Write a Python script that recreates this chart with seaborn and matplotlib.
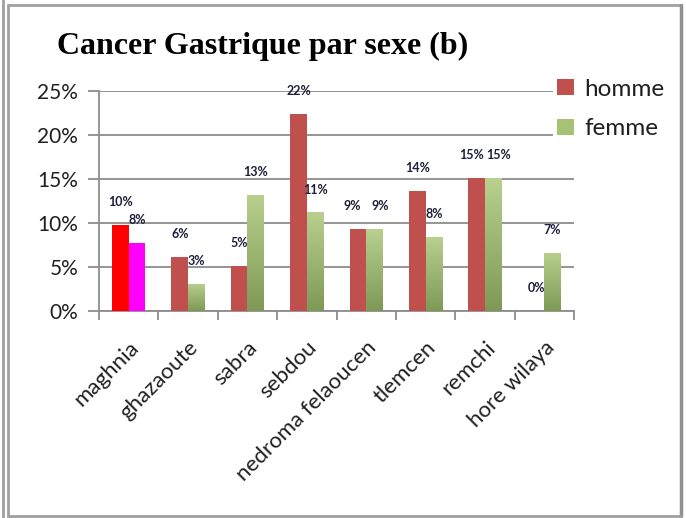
import numpy as np
import pandas as pd
import seaborn as sns
import matplotlib
matplotlib.use("Agg")
import matplotlib.pyplot as plt
from matplotlib.patches import Patch
from matplotlib.lines import Line2D
from matplotlib.colors import LinearSegmentedColormap

# ---------------- data ----------------
lieux = ["maghnia", "ghazaoute", "sabra", "sebdou", "nedroma felaoucen",
         "tlemcen", "remchi", "hore wilaya"]
homme = [9.8, 6.1, 5.1, 22.4, 9.3, 13.6, 15.1, 0.0]
femme = [7.7, 3.1, 13.2, 11.2, 9.3, 8.4, 15.1, 6.6]
series = ["homme", "femme"]
yticks = [0, 5, 10, 15, 20, 25]
title = "Cancer Gastrique par sexe (b)"

df = pd.DataFrame({
    "lieu": lieux * 2,
    "sexe": ["homme"] * len(lieux) + ["femme"] * len(lieux),
    "val": homme + femme,
})

sns.set_style("white")
plt.rcParams["font.family"] = ["Lato", "DejaVu Sans"]

W, H = 686, 518
fig = plt.figure(figsize=(W / 100, H / 100), dpi=100)
fig.patch.set_facecolor("white")
ax = fig.add_axes([99 / W, 1 - 311 / H, 475 / W, 220 / H])

c_h = "#C0504D"
c_f = "#9BBB59"
sns.barplot(data=df, x="lieu", y="val", hue="sexe", order=lieux,
            hue_order=series, palette={"homme": c_h, "femme": c_f},
            width=0.56, dodge=True, legend=False, ax=ax,
            linewidth=0, saturation=1, zorder=3)

# special colours for maghnia
ax.containers[0][0].set_facecolor("#FF0000")
ax.containers[1][0].set_facecolor("#FF00FF")

# gradient on femme bars
cmap = LinearSegmentedColormap.from_list("g", ["#7E9955", "#B9D08F"])
grad = np.linspace(0, 1, 256).reshape(-1, 1)
for i, bar in enumerate(ax.containers[1]):
    if i == 0 or bar.get_height() <= 0:
        continue
    x0, w = bar.get_x(), bar.get_width()
    h = bar.get_height()
    im = ax.imshow(grad, cmap=cmap, aspect="auto", origin="lower",
                   extent=[x0, x0 + w, 0, h], zorder=3.5)
    im.set_clip_path(bar)

# data labels (nudged apart when the two labels of a group sit at the same height)
for j, cont in enumerate(ax.containers):
    for i, bar in enumerate(cont):
        v = bar.get_height()
        dx = 0
        if abs(homme[i] - femme[i]) < 1.5:
            dx = -4 if j == 0 else 4
        ax.annotate(f"{v:.0f}%", (bar.get_x() + bar.get_width() / 2, v),
                    xytext=(dx, 16.5), textcoords="offset points",
                    ha="center", va="center", fontsize=9, fontweight="bold",
                    color="#1E1E3C", zorder=5)

ax.set_xlim(-0.5, len(lieux) - 0.5)
ax.set_ylim(0, 25)
ax.set_yticks(yticks)
ax.set_yticklabels([f"{t}%" for t in yticks], fontsize=15, color="#202020")
ax.set_xlabel("")
ax.set_ylabel("")

gcol = "#8C8C8C"
ax.grid(axis="y", color=gcol, linewidth=1.3, zorder=0)
ax.grid(axis="x", visible=False)
ax.set_axisbelow(True)
for s in ["top", "right"]:
    ax.spines[s].set_visible(False)
for s in ["left", "bottom"]:
    ax.spines[s].set_color(gcol)
    ax.spines[s].set_linewidth(1.3)
ax.tick_params(axis="y", length=8, width=1.3, color=gcol, pad=7, direction="out", left=True)

# x ticks: boundaries as minor ticks, labels on major with no tick
ax.set_xticks(np.arange(-0.5, len(lieux), 1.0), minor=True)
ax.tick_params(axis="x", which="minor", length=6.5, width=1.3, color=gcol, direction="out", bottom=True)
ax.tick_params(axis="x", which="major", length=0, pad=19)
ax.set_xticks(range(len(lieux)))
ax.set_xticklabels(lieux, rotation=45, ha="right", va="top",
                   rotation_mode="anchor", fontsize=16, color="#202020")

# legend
handles = [Patch(facecolor=c_h, edgecolor="none"),
           Patch(facecolor="#A8C275", edgecolor="none")]
leg = fig.legend(handles, series, loc="upper left",
                 bbox_to_anchor=(553 / W, 1 - 75 / H), fontsize=17.5,
                 frameon=True, facecolor="white", edgecolor="none",
                 framealpha=1, handlelength=0.7, handleheight=0.62,
                 handletextpad=0.45, labelspacing=0.77, borderpad=0.15,
                 borderaxespad=0)
for t in leg.get_texts():
    t.set_color("#202020")

# title
fig.text(57 / W, 1 - 54 / H, title, fontsize=23, fontweight="bold",
         family="Liberation Serif", ha="left", va="baseline", color="black")

# frame lines
bc = "#A0A0A0"
fig.add_artist(Line2D([7.5 / W, 7.5 / W], [0, 1 - 5 / H], color=bc, lw=2, transform=fig.transFigure))
fig.add_artist(Line2D([3.5 / W, 3.5 / W], [0, 1], color=bc, lw=2, transform=fig.transFigure))
fig.add_artist(Line2D([7.5 / W, 681 / W], [1 - 5 / H, 1 - 5 / H], color=bc, lw=2, transform=fig.transFigure))
fig.add_artist(Line2D([681 / W, 681 / W], [1 - 5 / H, 1 - 516 / H], color="#909090", lw=2.5, transform=fig.transFigure))
fig.add_artist(Line2D([7.5 / W, 681 / W], [1 - 516 / H, 1 - 516 / H], color=bc, lw=2, transform=fig.transFigure))

fig.savefig("out.png", dpi=100)
